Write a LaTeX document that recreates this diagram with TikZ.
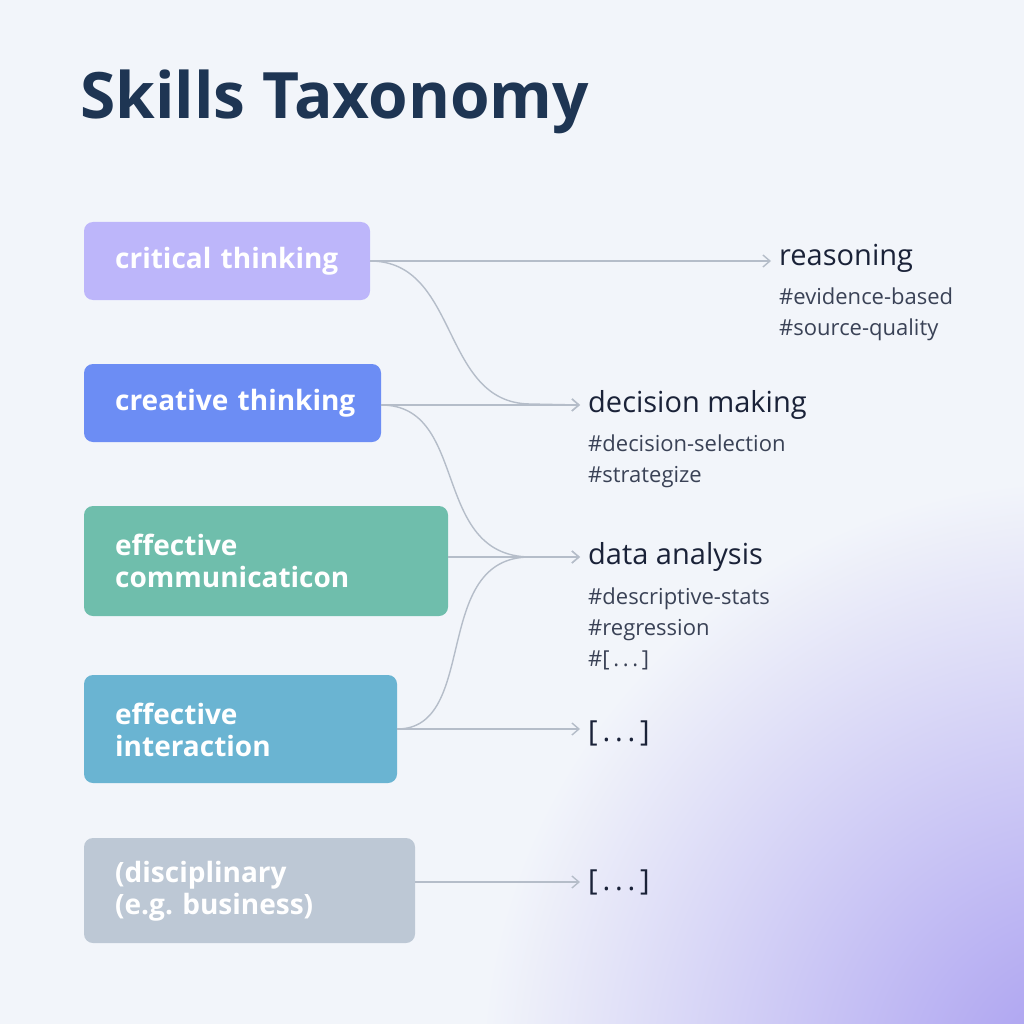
\documentclass[tikz,border=0pt]{standalone}
\usepackage{fontspec}
\setmainfont{Open Sans}
\frenchspacing
\usetikzlibrary{arrows.meta}
\definecolor{bg}{HTML}{F2F5FA}
\definecolor{navy}{HTML}{1E3553}
\definecolor{ink}{HTML}{1A2238}
\definecolor{tagc}{HTML}{3A4256}
\definecolor{cA}{HTML}{BDB6FA}
\definecolor{cB}{HTML}{6C8DF4}
\definecolor{cC}{HTML}{6FBEAC}
\definecolor{cD}{HTML}{6AB4D2}
\definecolor{cE}{HTML}{BDC8D5}
\definecolor{lnc}{HTML}{B5BDC9}
\definecolor{glow}{HTML}{A79CF0}
\tikzset{
 box/.style={inner sep=0pt, anchor=west, text=white, font=\fontsize{28}{32}\selectfont\bfseries, align=left, text width=#1},
 lab/.style={anchor=west, text=ink, font=\fontsize{29}{32}\selectfont, inner sep=0pt},
 tag/.style={anchor=north west, text=tagc, font=\fontsize{22}{31}\selectfont, inner sep=0pt, align=left},
 conn/.style={draw=lnc, line width=1.4pt},
 arr/.style={conn, -{Straight Barb[length=7pt,width=12pt]}}
}
\begin{document}
\begin{tikzpicture}[x=1pt,y=-1pt]
\fill[bg] (0,0) rectangle (1024,1024);
\begin{scope}
\clip (0,0) rectangle (1024,1024);
\shade[inner color=glow, outer color=bg] (1080,1080) circle (600);
\end{scope}
\useasboundingbox (0,0) rectangle (1024,1024);
\node[anchor=west, text=navy, font=\fontsize{64}{70}\selectfont\bfseries, inner sep=0pt] (title) at (80,102) {Skills Taxonomy};
% boxes
\fill[cA, rounded corners=9pt] (84,222) rectangle (370,300);
\node[box=260pt] (b1) at (115,261) {critical thinking};
\fill[cB, rounded corners=9pt] (84,364) rectangle (381,442);
\node[box=260pt] (b2) at (115,403) {creative thinking};
\fill[cC, rounded corners=9pt] (84,506) rectangle (448,616);
\node[box=320pt] (b3) at (115,561) {effective\\communicaticon};
\fill[cD, rounded corners=9pt] (84,675) rectangle (397,783);
\node[box=270pt] (b4) at (115,730) {effective\\interaction};
\fill[cE, rounded corners=9pt] (84,838) rectangle (415,943);
\node[box=290pt] (b5) at (115,891) {(disciplinary\\(e.g. business)};
\coordinate (o1) at (370,261);
\coordinate (o2) at (381,405);
\coordinate (o3) at (448,557);
\coordinate (o4) at (397,729);
\coordinate (o5) at (415,882);
% labels
\node[lab] (r) at (779,258) {reasoning};
\node[tag] (rt) at (779,288) {\#evidence-based\\\#source-quality};
\node[lab] (d) at (588,405) {decision making};
\node[tag] (dt) at (588,435) {\#decision-selection\\\#strategize};
\node[lab] (a) at (588,557) {data analysis};
\node[tag] (at) at (588,588) {\#descriptive-stats\\\#regression\\\#[\,.\,.\,.\,]};
\node[lab] (e1) at (588,733) {[\,.\,.\,.\,]};
\node[lab] (e2) at (588,882) {[\,.\,.\,.\,]};
% connectors
\draw[arr] (o1) -- ([xshift=-8pt]r.west |- o1);
\draw[arr] (o1) .. controls (460,261) and (440,403) .. (530,404) -- ([xshift=-8pt]d.west);
\draw[arr] (o2) -- ([xshift=-8pt]d.west);
\draw[arr] (o2) .. controls (470,405) and (430,556) .. (530,557) -- ([xshift=-8pt]a.west);
\draw[arr] (o3) -- ([xshift=-8pt]a.west);
\draw[conn] (o4) .. controls (480,729) and (430,557) .. (530,557);
\draw[arr] (o4) -- ([xshift=-8pt]e1.west |- o4);
\draw[arr] (o5) -- ([xshift=-8pt]e2.west);
\end{tikzpicture}
\end{document}
